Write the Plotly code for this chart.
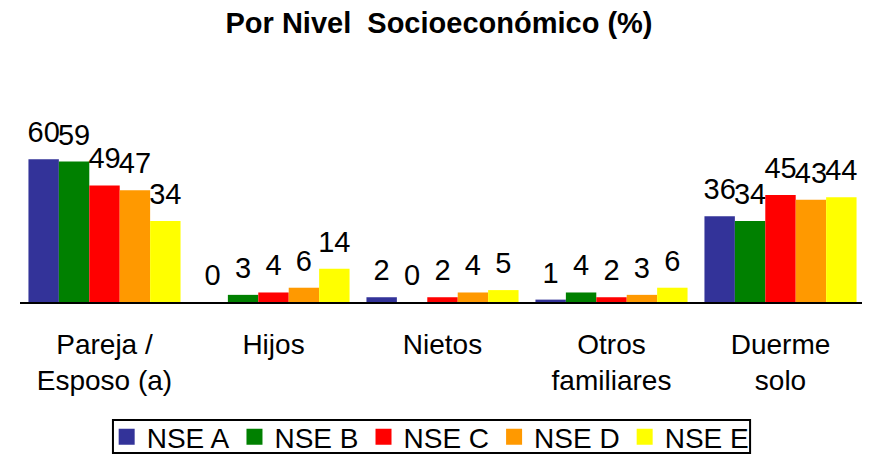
import plotly.graph_objects as go

categorias = ["Pareja /<br>Esposo (a)", "Hijos", "Nietos", "Otros<br>familiares", "Duerme<br>solo"]
series = ["NSE A", "NSE B", "NSE C", "NSE D", "NSE E"]
nse_a = [60, 0, 2, 1, 36]
nse_b = [59, 3, 0, 4, 34]
nse_c = [49, 4, 2, 2, 45]
nse_d = [47, 6, 4, 3, 43]
nse_e = [34, 14, 5, 6, 44]
colores = ["#333399", "#008000", "#FF0000", "#FF9900", "#FFFF00"]

# separación entre la barra y su etiqueta (en unidades del eje y)
separacion = 3.4

fig = go.Figure()

for i, (nombre, valores, color) in enumerate(zip(series, [nse_a, nse_b, nse_c, nse_d, nse_e], colores)):
    fig.add_trace(go.Bar(
        x=categorias,
        y=valores,
        name=nombre,
        offsetgroup=str(i),
        marker={"color": color, "line": {"width": 0}},
        showlegend=False,
    ))
    # barra invisible encima, sólo para llevar la etiqueta un poco más arriba
    fig.add_trace(go.Bar(
        x=categorias,
        y=[separacion] * len(valores),
        base=valores,
        offsetgroup=str(i),
        marker={"color": "rgba(0,0,0,0)", "line": {"width": 0}},
        text=[str(v) for v in valores],
        textposition="outside",
        constraintext="none",
        cliponaxis=False,
        textfont={"size": 29, "color": "black"},
        hoverinfo="skip",
        showlegend=False,
    ))

# entradas de leyenda con cuadrados más grandes
for nombre, color in zip(series, colores):
    fig.add_trace(go.Scatter(
        x=[None],
        y=[None],
        name=nombre,
        mode="markers",
        marker={"color": color, "symbol": "square", "size": 16},
    ))

# marco de la leyenda (la leyenda de plotly deja demasiado relleno)
fig.add_shape(
    type="rect",
    xref="paper", yref="paper",
    x0=0.110, x1=0.864,
    y0=-0.624, y1=-0.488,
    line={"color": "black", "width": 2},
    fillcolor="rgba(0,0,0,0)",
)

fig.update_layout(
    width=862,
    height=446,
    title={
        "text": "<b>Por Nivel\u00a0 Socioeconómico (%)</b>",
        "x": 0.5,
        "xanchor": "center",
        "y": 0.966,
        "yanchor": "middle",
        "font": {"size": 29, "color": "black"},
    },
    font={"family": "Liberation Sans, Arial, sans-serif", "color": "black"},
    barmode="group",
    bargap=0.1,
    bargroupgap=0,
    plot_bgcolor="white",
    paper_bgcolor="white",
    margin={"t": 52, "b": 152, "l": 12, "r": 5, "autoexpand": False},
    xaxis={
        "showline": True,
        "linecolor": "black",
        "linewidth": 2,
        "ticks": "",
        "ticklabelstandoff": 16,
        "tickfont": {"size": 28},
        "showgrid": False,
        "automargin": False,
    },
    yaxis={
        "range": [0, 101.7],
        "visible": False,
        "showgrid": False,
    },
    legend={
        "orientation": "h",
        "x": 0.486,
        "xanchor": "center",
        "y": -0.558,
        "yanchor": "middle",
        "borderwidth": 0,
        "bgcolor": "rgba(0,0,0,0)",
        "font": {"size": 28},
        "itemwidth": 30,
        "itemsizing": "trace",
        "tracegroupgap": 0,
    },
)

fig.write_html("out.html")
